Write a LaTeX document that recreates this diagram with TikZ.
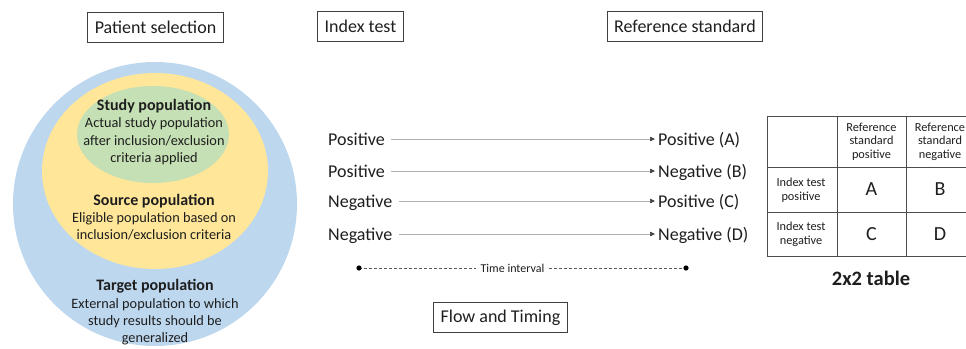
\documentclass[tikz,border=0pt]{standalone}
\usepackage{fontspec}
\setmainfont{Carlito}
\usetikzlibrary{arrows.meta}
\definecolor{cblue}{HTML}{BDD7EE}
\definecolor{cyellow}{HTML}{FFE699}
\definecolor{cgreen}{HTML}{C5E0B4}
\definecolor{ctext}{HTML}{1E1E1E}
\definecolor{cline}{HTML}{B0B0B0}
\definecolor{cgrid}{HTML}{4D4D4D}
\newcommand\mypoptitlefont{\fontsize{16}{17.3}\selectfont\bfseries}
\tikzset{
  titlebox/.style={draw=black!75, line width=0.8pt, inner xsep=7pt, minimum height=30pt, font=\fontsize{18}{21}\selectfont, text=ctext},
  poptext/.style={align=center, text=ctext, font=\fontsize{14.3}{17.3}\selectfont, inner sep=0pt},
  outcome/.style={text=ctext, font=\fontsize{18}{21}\selectfont, inner sep=3pt},
  flowarrow/.style={draw=cline, line width=0.6pt, -{Triangle[length=5pt,width=4.5pt,color=black!75]}, shorten <=3pt},
  cellsmall/.style={align=center, text=ctext, font=\fontsize{12.3}{13.6}\selectfont, inner sep=0pt},
  cellbig/.style={text=ctext, font=\fontsize{20}{23}\selectfont, inner sep=0pt},
  grid/.style={draw=cgrid, line width=0.8pt},
}
\begin{document}
\begin{tikzpicture}[x=1pt,y=-1pt]
\useasboundingbox (0,0) rectangle (966,348);

% header boxes
\node[titlebox] (ps) at (155.5,27) {Patient selection};
\node[titlebox] (it) at (360.5,26.5) {Index test};
\node[titlebox] (rs) at (685,26.5) {Reference standard};
\node[titlebox] (ft) at (500.5,317.5) {Flow and Timing};

% population circles
\fill[cblue] (155,204) ellipse [x radius=142, y radius=142];
\fill[cyellow] (155,171) ellipse [x radius=113, y radius=98];
\fill[cgreen] (153,134.5) ellipse [x radius=76, y radius=48.5];

\node[poptext] (study) at (154,132) {{\mypoptitlefont Study population}\\Actual study population\\after inclusion/exclusion\\criteria applied};
\node[poptext] (source) at (154,217) {{\mypoptitlefont Source population}\\Eligible population based on\\inclusion/exclusion criteria};
\node[poptext] (target) at (155,312.5) {{\mypoptitlefont Target population}\\External population to which\\study results should be\\generalized};

% flow rows
\node[outcome, anchor=base west] (l1) at (325,145) {Positive};
\node[outcome, anchor=base west] (l2) at (325,177) {Positive};
\node[outcome, anchor=base west] (l3) at (325,207) {Negative};
\node[outcome, anchor=base west] (l4) at (325,240) {Negative};
\node[outcome, anchor=base west] (r1) at (655,145) {Positive (A)};
\node[outcome, anchor=base west] (r2) at (655,177) {Negative (B)};
\node[outcome, anchor=base west] (r3) at (655,207) {Positive (C)};
\node[outcome, anchor=base west] (r4) at (655,240) {Negative (D)};
\path (l1.east |- l1.base) ++(0,-6) coordinate (a1s);
\path (r1.west |- r1.base) ++(0,-6) coordinate (a1e);
\path (l2.east |- l2.base) ++(0,-6) coordinate (a2s);
\path (r2.west |- r2.base) ++(0,-6) coordinate (a2e);
\path (l3.east |- l3.base) ++(0,-6) coordinate (a3s);
\path (r3.west |- r3.base) ++(0,-6) coordinate (a3e);
\path (l4.east |- l4.base) ++(0,-6) coordinate (a4s);
\path (r4.west |- r4.base) ++(0,-6) coordinate (a4e);
\draw[flowarrow] (a1s) -- (a1e);
\draw[flowarrow] (a2s) -- (a2e);
\draw[flowarrow] (a3s) -- (a3e);
\draw[flowarrow] (a4s) -- (a4e);

% time interval
\coordinate (t1) at (359,268);
\coordinate (t2) at (686,268);
\draw[black!65, line width=0.9pt, dash pattern=on 3pt off 2pt] (t1) -- (t2);
\fill[black] (t1) circle (2.6pt);
\fill[black] (t2) circle (2.6pt);
\node[fill=white, inner xsep=5pt, inner ysep=2pt, text=ctext, font=\fontsize{12}{14}\selectfont] (ti) at (512.5,268) {Time interval};

% 2x2 table
\draw[grid] (767,116) -- (966,116);
\draw[grid] (767,167) -- (966,167);
\draw[grid] (767,212) -- (966,212);
\draw[grid] (767,256) -- (966,256);
\draw[grid] (767,116) -- (767,256);
\draw[grid] (837,116) -- (837,256);
\draw[grid] (906,116) -- (906,256);

\node[cellsmall] (h1) at (871.5,141.5) {Reference\\standard\\positive};
\node[cellsmall] (h2) at (940,141.5) {Reference\\standard\\negative};
\node[cellsmall] (v1) at (801,190) {Index test\\positive};
\node[cellsmall] (v2) at (801,234) {Index test\\negative};
\node[cellbig] (ca) at (871.5,189.5) {A};
\node[cellbig] (cb) at (940,189.5) {B};
\node[cellbig] (cc) at (871.5,234) {C};
\node[cellbig] (cd) at (940,234) {D};
\node[text=ctext, font=\fontsize{20.5}{24}\selectfont\bfseries] (tt) at (871,278) {2x2 table};
\end{tikzpicture}
\end{document}
